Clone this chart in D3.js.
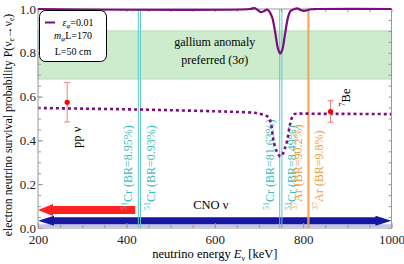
<!DOCTYPE html>
<html>
<head>
<meta charset="utf-8">
<script src="https://cdn.jsdelivr.net/npm/d3@7/dist/d3.min.js"></script>
<style>
body { margin: 0; background: #fff; }
svg { display: block; font-family: "Liberation Serif", "DejaVu Serif", serif; }
</style>
</head>
<body>
<div id="chart"></div>
<script>
// ---------------- data ----------------
var xTicks = [200, 400, 600, 800, 1000]
var yTicks = [0, 0.2, 0.4, 0.6, 0.8, 1.0]

// solid curve (short baseline, eps=0.01)
var solidE = [200, 680, 690, 697, 704, 711, 718, 723, 730, 737, 743, 748, 753, 759, 765, 771, 778, 786, 794, 801, 809, 818, 830, 1000]
var solidP = [1.0, 1.0, 1.004, 0.996, 0.986, 0.99, 0.997, 0.99, 0.962, 0.89, 0.82, 0.797, 0.815, 0.885, 0.955, 0.99, 0.998, 1.003, 0.996, 0.991, 0.995, 0.999, 1.0, 1.0]

// dotted curve (solar)
var dottedE = [200, 300, 400, 500, 600, 650, 690, 705, 715, 722, 727, 733, 740, 745, 749, 753, 758, 764, 770, 775, 780, 790, 850, 900, 1000]
var dottedP = [0.548, 0.545, 0.542, 0.538, 0.533, 0.53, 0.526, 0.52, 0.514, 0.505, 0.478, 0.40, 0.35, 0.333, 0.326, 0.335, 0.36, 0.40, 0.47, 0.505, 0.52, 0.522, 0.521, 0.521, 0.52]

// measurements
var ptName = ["pp", "Be"]
var ptMass = ["", "7"]
var ptE = [266, 862]
var ptP = [0.574, 0.532]
var ptErr = [0.09, 0.049]

// source lines
var srcE = [427, 432, 747, 752, 811, 813]
var srcIso = ["Cr", "Cr", "Cr", "Cr", "Ar", "Ar"]
var srcMass = ["51", "51", "51", "51", "37", "37"]
var srcBR = ["8.95%", "0.93%", "81.63%", "8.49%", "90.2%", "9.8%"]

// gallium anomaly band
var gaBand = [0.68, 0.9]

// spectrum ranges
var ppRange = [200, 420]
var ppLevel = 0.082
var cnoRange = [200, 1000]
var cnoLevel = 0.033

// ---------------- chart ----------------
var width = 404
var height = 264
var pLeft = 38, pRight = 391.5, pTop = 9, pBottom = 228
var serif = "'Liberation Serif', 'DejaVu Serif', serif"

var purple = "#7e0c80"
var cyan = "#5cc8c8"
var orange = "#f5a358"

var svg = d3.select("#chart").append("svg")
    .attr("width", width)
    .attr("height", height)

var x = d3.scaleLinear().domain([200, 1000]).range([pLeft, pRight])
var y = d3.scaleLinear().domain([0, 1]).range([pBottom, pTop])

// gallium band
svg.append("rect")
    .attr("x", x(200)).attr("width", x(1000) - x(200))
    .attr("y", y(gaBand[1])).attr("height", y(gaBand[0]) - y(gaBand[1]))
    .style("fill", "#cdeccd")
    .style("stroke", "#aadcaa")
    .style("stroke-width", 0.8)

var midX = (x(200) + x(1000)) / 2
svg.append("text")
    .attr("x", midX).attr("y", y(0.8) - 6.5)
    .attr("text-anchor", "middle")
    .style("font-size", "12px")
    .text("gallium anomaly")
var pref = svg.append("text")
    .attr("x", midX).attr("y", y(0.8) + 11.5)
    .attr("text-anchor", "middle")
    .style("font-size", "12px")
pref.append("tspan").text("preferred (3")
pref.append("tspan").style("font-style", "italic").text("σ")
pref.append("tspan").text(")")

// lavender strip at the bottom
svg.append("rect")
    .attr("x", x(200)).attr("width", x(1000) - x(200))
    .attr("y", y(cnoLevel) + 3.5).attr("height", y(0) - y(cnoLevel) - 4.5)
    .style("fill", "#c4c4e6")

// arrows
var arrowPath = function(x0, x1, lvl, headL, headH, shaftH, both) {
    var yc = y(lvl)
    var a = x(x0), b = x(x1)
    var pts = [[a, yc], [a + headL, yc - headH], [a + headL, yc - shaftH]]
    if (both) {
        pts.push([b - headL, yc - shaftH], [b - headL, yc - headH], [b, yc], [b - headL, yc + headH], [b - headL, yc + shaftH])
    } else {
        pts.push([b, yc - shaftH], [b, yc + shaftH])
    }
    pts.push([a + headL, yc + shaftH], [a + headL, yc + headH])
    return "M" + pts.map(function(p) { return p.join(",") }).join("L") + "Z"
}
svg.append("path")
    .attr("d", arrowPath(ppRange[0], ppRange[1], ppLevel, 15, 6, 4, false))
    .style("fill", "#ff2222")
svg.append("path")
    .attr("d", arrowPath(cnoRange[0], cnoRange[1], cnoLevel, 16, 5, 3.4, true))
    .style("fill", "#1616a0")

svg.append("text")
    .attr("x", midX - 4).attr("y", y(cnoLevel) - 12)
    .attr("text-anchor", "middle")
    .style("font-size", "12.5px")
    .text("CNO ν")

// source lines
svg.selectAll(".src")
    .data(srcE)
    .enter()
    .append("line")
    .attr("class", "src")
    .attr("x1", function(d) { return x(d) }).attr("x2", function(d) { return x(d) })
    .attr("y1", y(1)).attr("y2", y(0))
    .style("stroke", function(d, i) { return srcIso[i] == "Cr" ? cyan : orange })
    .style("stroke-width", function(d, i) { return srcIso[i] == "Cr" ? 1 : 1.3 })

// source labels, alternating left / right of the line
srcE.forEach(function(e, i) {
    var side = i % 2 == 0 ? -1 : 1
    var cx = x(e) + side * 10 + 4
    var t = svg.append("text")
        .attr("transform", "translate(" + cx + "," + 210 + ") rotate(-90)")
        .style("font-size", "12px")
        .style("fill", srcIso[i] == "Cr" ? "#3bbcbc" : "#f2a040")
    t.append("tspan").style("font-size", "8px").attr("dy", -5).text(srcMass[i])
    t.append("tspan").attr("dy", 5).text(srcIso[i] + " (BR=" + srcBR[i] + ")")
})

// curves
var line = d3.line()
    .x(function(d) { return x(d[0]) })
    .y(function(d) { return y(d[1]) })
    .curve(d3.curveCatmullRom.alpha(0.5))

svg.append("path")
    .attr("d", line(dottedE.map(function(e, i) { return [e, dottedP[i]] })))
    .style("fill", "none")
    .style("stroke", purple)
    .style("stroke-width", 2.6)
    .style("stroke-dasharray", "3,3")

// frame + ticks
svg.append("rect")
    .attr("x", pLeft).attr("y", pTop)
    .attr("width", pRight - pLeft).attr("height", pBottom - pTop)
    .style("fill", "none").style("stroke", "#999").style("stroke-width", 1)

var minorX = d3.range(200, 1001, 50)
var minorY = d3.range(0, 1.001, 0.05)

svg.append("g").attr("transform", "translate(0," + pBottom + ")")
    .call(d3.axisBottom(x).tickValues(minorX).tickSizeInner(-3).tickSizeOuter(0).tickFormat(""))
svg.append("g").attr("transform", "translate(0," + pBottom + ")")
    .call(d3.axisBottom(x).tickValues(xTicks).tickSizeInner(-5).tickSizeOuter(0).tickPadding(7).tickFormat(d3.format("d")))
svg.append("g").attr("transform", "translate(0," + pTop + ")")
    .call(d3.axisTop(x).tickValues(minorX).tickSizeInner(-3).tickSizeOuter(0).tickFormat(""))
svg.append("g").attr("transform", "translate(" + pLeft + ",0)")
    .call(d3.axisLeft(y).tickValues(minorY).tickSizeInner(-3).tickSizeOuter(0).tickFormat(""))
svg.append("g").attr("transform", "translate(" + pLeft + ",0)")
    .call(d3.axisLeft(y).tickValues(yTicks).tickSizeInner(-5).tickSizeOuter(0).tickPadding(2).tickFormat(d3.format(".1f")))
svg.append("g").attr("transform", "translate(" + pRight + ",0)")
    .call(d3.axisRight(y).tickValues(minorY).tickSizeInner(-3).tickSizeOuter(0).tickFormat(""))

svg.selectAll(".domain").remove()
svg.selectAll("g").attr("font-family", serif)
svg.selectAll(".tick line").style("stroke", "#999")
svg.selectAll(".tick text")
    .style("font-family", serif)
    .style("font-size", "13px")
    .style("fill", "#222")

// solid curve on top of frame
svg.append("path")
    .attr("d", line(solidE.map(function(e, i) { return [e, solidP[i]] })))
    .style("fill", "none")
    .style("stroke", purple)
    .style("stroke-width", 2.2)

// measurements
ptE.forEach(function(e, i) {
    var cx = x(e)
    svg.append("line")
        .attr("x1", cx).attr("x2", cx)
        .attr("y1", y(ptP[i] + ptErr[i])).attr("y2", y(ptP[i] - ptErr[i]))
        .style("stroke", "#f08080").style("stroke-width", 1)
    ;[ptP[i] + ptErr[i], ptP[i] - ptErr[i]].forEach(function(v) {
        svg.append("line")
            .attr("x1", cx - 3).attr("x2", cx + 3)
            .attr("y1", y(v)).attr("y2", y(v))
            .style("stroke", "#f08080").style("stroke-width", 1)
    })
    svg.append("circle")
        .attr("cx", cx).attr("cy", y(ptP[i]))
        .attr("r", 2.6)
        .style("fill", "#ff0000")
})

// pp label (below point) and 7Be label (above point)
var ppT = svg.append("text")
    .attr("transform", "translate(" + (x(ptE[0]) + 14) + "," + (y(ptP[0]) + 35) + ") rotate(-90)")
    .attr("text-anchor", "middle")
    .style("font-size", "12.5px")
ppT.text(ptName[0] + " ν")

var beT = svg.append("text")
    .attr("transform", "translate(" + (x(ptE[1]) + 19) + "," + (y(ptP[1]) - 14) + ") rotate(-90)")
    .attr("text-anchor", "middle")
    .style("font-size", "12.5px")
beT.append("tspan").style("font-size", "8px").attr("dy", -5).text(ptMass[1])
beT.append("tspan").attr("dy", 5).text(ptName[1])

// legend
var lg = svg.append("g")
lg.append("rect")
    .attr("x", 39.5).attr("y", 10.5).attr("width", 67).attr("height", 51).attr("rx", 6)
    .style("fill", "#fff").style("stroke", "#000").style("stroke-width", 1)
lg.append("line")
    .attr("x1", 45).attr("x2", 55).attr("y1", 22.5).attr("y2", 22.5)
    .style("stroke", purple).style("stroke-width", 2)
var l1 = lg.append("text").attr("x", 78).attr("y", 26).attr("text-anchor", "middle").style("font-size", "10px")
l1.append("tspan").style("font-style", "italic").text("ε")
l1.append("tspan").style("font-size", "7px").attr("dy", 2).style("font-style", "italic").text("φ")
l1.append("tspan").attr("dy", -2).text("=0.01")
var l2 = lg.append("text").attr("x", 73).attr("y", 39).attr("text-anchor", "middle").style("font-size", "10px")
l2.append("tspan").style("font-style", "italic").text("m")
l2.append("tspan").style("font-size", "7px").attr("dy", 2).style("font-style", "italic").text("φ")
l2.append("tspan").attr("dy", -2).text("L=170")
lg.append("text").attr("x", 73).attr("y", 55).attr("text-anchor", "middle").style("font-size", "10px")
    .text("L=50 cm")

// axis titles
var xl = svg.append("text")
    .attr("x", midX).attr("y", 258)
    .attr("text-anchor", "middle")
    .style("font-size", "12.5px")
xl.append("tspan").text("neutrino energy ")
xl.append("tspan").style("font-style", "italic").text("E")
xl.append("tspan").style("font-size", "8px").attr("dy", 2.5).text("ν")
xl.append("tspan").attr("dy", -2.5).text(" [keV]")

var yl = svg.append("text")
    .attr("transform", "translate(12,125) rotate(-90)")
    .attr("text-anchor", "middle")
    .style("font-size", "11.8px")
yl.append("tspan").text("electron neutrino survival probability P(ν")
yl.append("tspan").style("font-size", "7.5px").attr("dy", 2).text("e")
yl.append("tspan").attr("dy", -2).text("→ν")
yl.append("tspan").style("font-size", "7.5px").attr("dy", 2).text("e")
yl.append("tspan").attr("dy", -2).text(")")
</script>
</body>
</html>
